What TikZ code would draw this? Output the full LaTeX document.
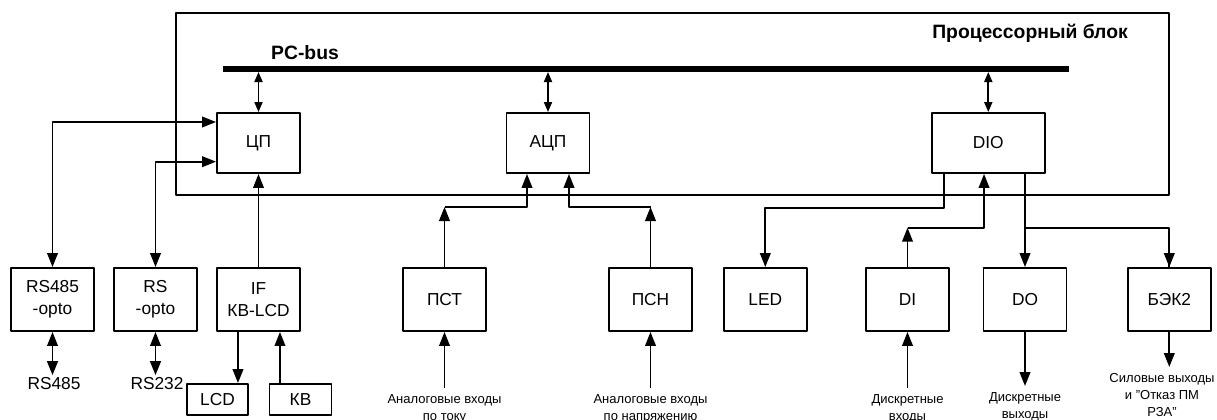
\documentclass[tikz,border=0pt]{standalone}
\usepackage{fontspec}
\setmainfont{Liberation Sans}
\usetikzlibrary{arrows.meta}

\tikzset{
  blk/.style={draw, line width=1.45pt, minimum width=62.25pt, minimum height=47.25pt,
    align=center, inner sep=1pt, font=\fontsize{13}{16.5}\selectfont},
  small blk/.style={blk, minimum width=46.5pt, minimum height=23.25pt},
  port/.style={inner sep=0pt, outer sep=2pt, font=\fontsize{13}{16.5}\selectfont},
  io/.style={inner sep=0pt, outer sep=5pt, anchor=north, align=center,
    font=\fontsize{9.75}{12.75}\selectfont},
  title/.style={font=\bfseries\fontsize{14.5}{17}\selectfont},
  link/.style={line width=1.35pt},
  buslink/.style={line width=1.35pt, {Triangle[length=7.5pt,width=6pt]}-{Triangle[length=7.5pt,width=6pt]}},
}

\begin{document}
\begin{tikzpicture}[x=0.75pt, y=-0.75pt, >={Triangle[length=10.5pt,width=8pt]}, line join=round]
    \useasboundingbox (0,0) rectangle (1217,419);

    % --- Processor block frame and PC-bus ---
    \draw[line width=1.2pt] (176,13) rectangle (1169,195);
    \node[title] (blockname) at (1030,33) {Процессорный блок};
    \node[title] (busname) at (305,53) {PC-bus};
    \coordinate (busW) at (223,69);
    \coordinate (busE) at (1069,69);

    % --- Blocks inside ---
    \node[blk, minimum height=45pt] (cpu) at (258.5,143) {ЦП};
    \node[blk, minimum height=45pt] (adc) at (548,143) {АЦП};
    \node[blk, minimum height=45pt, minimum width=84.75pt] (dio) at (988.3,143) {DIO};

    % --- Blocks outside ---
    \node[blk] (rs485o) at (52.5,299.5) {RS485\\-opto};
    \node[blk] (rsopto) at (155.5,299.5) {RS\\-opto};
    \node[blk] (ifkb) at (258.5,299.5) {IF\\КВ-LCD};
    \node[blk] (pst) at (444.5,299.5) {ПСТ};
    \node[blk] (psn) at (650.5,299.5) {ПСН};
    \node[blk] (led) at (765.3,299.5) {LED};
    \node[blk] (di) at (907.5,299.5) {DI};
    \node[blk] (do) at (1025,299.5) {DO};
    \node[blk] (bek) at (1169.3,299.5) {БЭК2};
    \node[small blk, minimum width=45.75pt] (lcd) at (217.5,399.5) {LCD};
    \node[small blk] (kb) at (300.5,399.5) {КВ};

    % --- External signals ---
    \node[port] (rs485lbl) at (54,384) {RS485};
    \node[port] (rs232lbl) at (157,384) {RS232};
    \node[io] (ailbl) at (444.5,388) {Аналоговые входы\\по току};
    \node[io] (aulbl) at (650.5,388) {Аналоговые входы\\по напряжению};
    \node[io] (dilbl) at (907.5,388) {Дискретные\\входы};
    \node[io] (dolbl) at (1025,386) {Дискретные\\выходы};
    \node[io] (beklbl) at (1162,367) {Силовые выходы\\и "Отказ ПМ\\РЗА"};

    % --- Bus and its taps ---
    \draw[buslink, shorten <=2.25pt] (cpu.north |- busW) -- (cpu.north);
    \draw[buslink, shorten <=2.25pt] (adc.north |- busW) -- (adc.north);
    \draw[buslink, shorten <=2.25pt] (dio.north |- busW) -- (dio.north);
    \draw[line width=4.5pt] (busW) -- (busE);

    % --- CPU side ---
    \draw[link, <->] (rs485o.north) |- ([yshift=15.75pt]cpu.west);
    \draw[link, <->] (rsopto.north) |- ([yshift=-14pt]cpu.west);
    \draw[link, ->] (ifkb.north) -- (cpu.south);
    \draw[link, ->] ([xshift=-15.4pt]ifkb.south) -- ([xshift=-15.4pt]ifkb.south |- lcd.north);
    \draw[link, ->] ([xshift=-15.4pt]kb.north) -- ([xshift=-15.4pt]kb.north |- ifkb.south);
    \draw[link, <->] (rs485o.south) -- (rs485o.south |- rs485lbl.north);
    \draw[link, <->] (rsopto.south) -- (rsopto.south |- rs232lbl.north);

    % --- ADC side ---
    \coordinate (anajoin) at (0,207);
    \draw[link, ->] (pst.north) -- (pst.north |- anajoin);
    \draw[link, ->] (pst.north |- anajoin) -| ([xshift=-15.75pt]adc.south);
    \draw[link, ->] (psn.north) -- (psn.north |- anajoin);
    \draw[link, ->] (psn.north |- anajoin) -| ([xshift=15.75pt]adc.south);
    \draw[link, ->] (ailbl.north) -- (pst.south);
    \draw[link, ->] (aulbl.north) -- (psn.south);

    % --- DIO side ---
    \coordinate (ledjoin) at (0,208);
    \coordinate (dijoin) at (0,227.7);
    \draw[link, ->] ([xshift=-33.2pt]dio.south) |- (led.north |- ledjoin) -- (led.north);
    \draw[link, ->] (di.north) -- (di.north |- dijoin);
    \draw[link, ->] (di.north |- dijoin) -| ([xshift=-3.2pt]dio.south);
    \draw[link, ->] (dio.south -| do.north) -- (do.north);
    \draw[link] (do.north |- dijoin) -| (bek.north);
    \draw[link, ->] (bek.north |- dijoin) -- (bek.north);
    \draw[link, ->] (dilbl.north) -- (di.south);
    \draw[link, ->] (do.south) -- (dolbl.north);
    \draw[link, ->] (bek.south) -- (bek.south |- beklbl.north);

\end{tikzpicture}
\end{document}
